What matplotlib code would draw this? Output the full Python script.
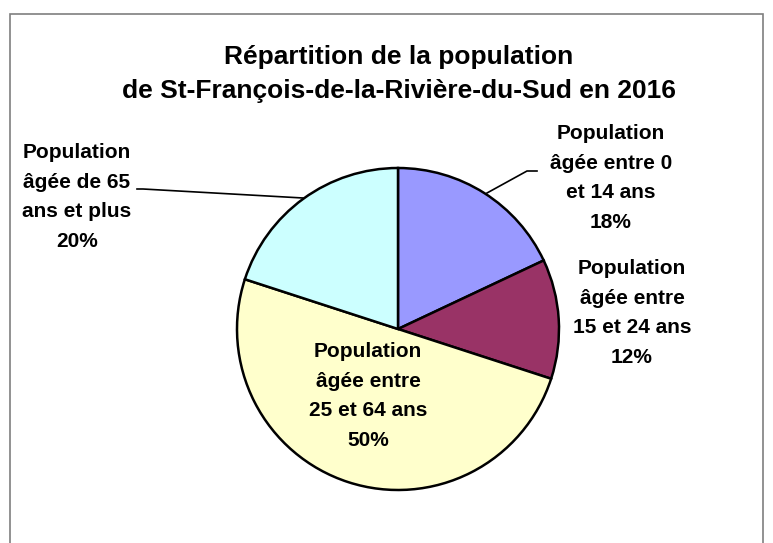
import matplotlib
matplotlib.use("Agg")
import matplotlib.pyplot as plt
from matplotlib.patches import Rectangle

# données
categories = [
    "Population\nâgée entre 0\net 14 ans",
    "Population\nâgée entre\n15 et 24 ans",
    "Population\nâgée entre\n25 et 64 ans",
    "Population\nâgée de 65\nans et plus",
]
shares = [18, 12, 50, 20]
colors = ["#9999FF", "#993366", "#FFFFCC", "#CCFFFF"]

W, H = 773, 543
fonts = ["Liberation Sans Narrow", "Liberation Sans", "DejaVu Sans"]

fig = plt.figure(figsize=(W / 100, H / 100), dpi=100)
ax = fig.add_axes([0, 0, 1, 1])

ax.pie(shares, colors=colors, startangle=90, counterclock=False,
       center=(398, H - 329), radius=161,
       wedgeprops=dict(edgecolor="black", linewidth=1.8))
ax.set_xlim(0, W)
ax.set_ylim(0, H)
ax.set_aspect("equal")
ax.axis("off")

# cadre
ax.add_patch(Rectangle((10, -5), 753, H - 14 + 5, fill=False,
                       edgecolor="#7f7f7f", linewidth=1.2))

ax.text(399, H - 74, "Répartition de la population\nde St-François-de-la-Rivière-du-Sud en 2016",
        ha="center", va="center", fontsize=19, fontweight="bold",
        family=fonts, linespacing=1.55)

# étiquettes
label_pos = [(611, 178), (632, 313), (368, 396), (77, 197)]
for cat, val, (x, y) in zip(categories, shares, label_pos):
    ax.text(x, H - y, f"{cat}\n{val}%", ha="center", va="center",
            fontsize=15, fontweight="bold", family=fonts, linespacing=1.7)

# lignes de rappel
ax.plot([487, 527, 537], [H - 193, H - 171, H - 171], color="black", lw=1.2)
ax.plot([303, 143, 137], [H - 198, H - 189, H - 189], color="black", lw=1.2)

fig.savefig("out.png", dpi=100, facecolor="white")
